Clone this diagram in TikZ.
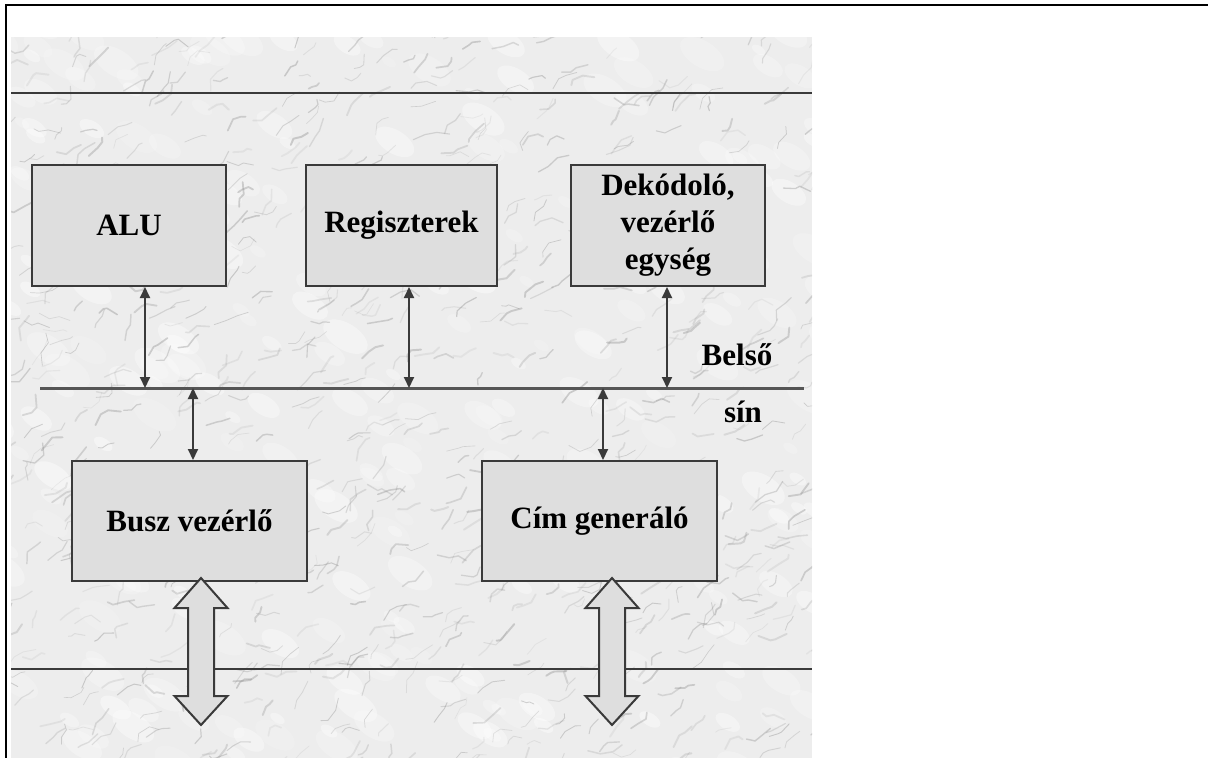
\documentclass[tikz,border=0pt]{standalone}
\usepackage{fontspec}
\setmainfont{Liberation Serif}
\usetikzlibrary{arrows.meta}
\definecolor{marblebase}{HTML}{EDEDED}
\definecolor{vein}{HTML}{8A8A8A}
\definecolor{boxfill}{HTML}{DEDEDE}
\definecolor{boxline}{HTML}{3A3A3A}
\definecolor{busline}{HTML}{555555}
\tikzset{
  unitbox/.style={draw=boxline, fill=boxfill, line width=2pt, inner sep=0pt,
    font=\fontsize{31}{37}\selectfont\bfseries, align=center},
  biarrow/.style={draw=boxline, line width=2pt,
    {Triangle[width=10pt,length=11pt]}-{Triangle[width=10pt,length=11pt]}},
  busarrow/.style={draw=boxline, fill=boxfill, line width=2pt, line join=miter},
  rail/.style={draw=boxline, line width=2pt},
  lbl/.style={font=\fontsize{31}{37}\selectfont\bfseries, inner sep=0pt, anchor=base}
}
% hollow double-headed bus arrow hanging down from a named top point
\newcommand{\busdarrow}[1]{%
  \path[busarrow] (#1) -- ++(26.5,30) -- ++(-13.5,0) -- ++(0,88)
    -- ++(13.5,0) -- ++(-26.5,29) -- ++(-26.5,-29) -- ++(13.5,0)
    -- ++(0,-88) -- ++(-13.5,0) -- cycle;}
\begin{document}
\begin{tikzpicture}[x=1pt,y=-1pt]
\useasboundingbox (0,0) rectangle (1208,758);
\fill[white] (0,0) rectangle (1208,758);

% frame edges
\draw[black, line width=2.6pt] (6,758) -- (6,5) -- (1208,5);

% marble backdrop
\begin{scope}
  \clip (11,37) rectangle (812,758);
  \fill[marblebase] (11,37) rectangle (812,758);
  \pgfmathsetseed{4242}
  \foreach \i in {1,...,300}{
    \pgfmathsetmacro\px{rnd*860-20}
    \pgfmathsetmacro\py{rnd*760+20}
    \pgfmathsetmacro\rr{5+rnd*12}
    \pgfmathsetmacro\op{0.15+rnd*0.25}
    \fill[white, opacity=\op] (\px,\py) ellipse[x radius=\rr*1.5, y radius=\rr*0.8, rotate=-32];
  }
  \foreach \i in {1,...,900}{
    \pgfmathsetmacro\px{rnd*860-20}
    \pgfmathsetmacro\py{rnd*760+20}
    \pgfmathsetmacro\ang{-32+rand*25}
    \pgfmathsetmacro\la{3+rnd*10}
    \pgfmathsetmacro\lb{3+rnd*10}
    \pgfmathsetmacro\lc{3+rnd*10}
    \pgfmathsetmacro\ja{rand*55}
    \pgfmathsetmacro\jb{rand*55}
    \pgfmathsetmacro\op{0.10+rnd*0.28}
    \pgfmathsetmacro\lw{0.6+rnd*1.4}
    \draw[vein, opacity=\op, line width=\lw pt, line cap=round, line join=round]
      (\px,\py) -- ++(\ang+\ja:\la) -- ++(\ang:\lb) -- ++(\ang+\jb:\lc);
  }
\end{scope}

% outer rails
\coordinate (tl) at (11,93);  \coordinate (tr) at (812,93);
\coordinate (bl) at (11,669); \coordinate (br) at (812,669);
\draw[rail] (tl) -- (tr);
\draw[rail] (bl) -- (br);

% internal bus
\coordinate (busL) at (40,388);
\coordinate (busR) at (804,388);
\draw[draw=busline, line width=3pt] (busL) -- (busR);

% units
\node[unitbox, minimum width=194pt, minimum height=121pt] (alu) at (129,225.5) {ALU};
\node[unitbox, minimum width=191pt, minimum height=121pt] (reg) at (401.5,225.5) {Regiszterek};
\node[unitbox, minimum width=194pt, minimum height=121pt] (dek) at (668,225.5) {Dekódoló,\\vezérlő\\egység};
\node[unitbox, minimum width=235pt, minimum height=120pt] (busz) at (189.5,521) {Busz vezérlő};
\node[unitbox, minimum width=235pt, minimum height=120pt] (cim) at (599.5,521) {Cím generáló};

% bus taps
\coordinate (pa) at (145,388);
\coordinate (pr) at (409,388);
\coordinate (pd) at (667,388);
\coordinate (pb) at (193,388);
\coordinate (pc) at (603,388);
\draw[biarrow] (alu.south -| pa) -- (pa);
\draw[biarrow] (reg.south -| pr) -- (pr);
\draw[biarrow] (dek.south -| pd) -- (pd);
\draw[biarrow] (pb) -- (busz.north -| pb);
\draw[biarrow] (pc) -- (cim.north -| pc);

% external bus arrows
\coordinate (xb) at (201,578);
\coordinate (xc) at (612,578);
\busdarrow{xb}
\busdarrow{xc}

% bus label
\node[lbl] (belso) at (737,365) {Belső};
\node[lbl] (sin) at (743,422) {sín};
\end{tikzpicture}
\end{document}
